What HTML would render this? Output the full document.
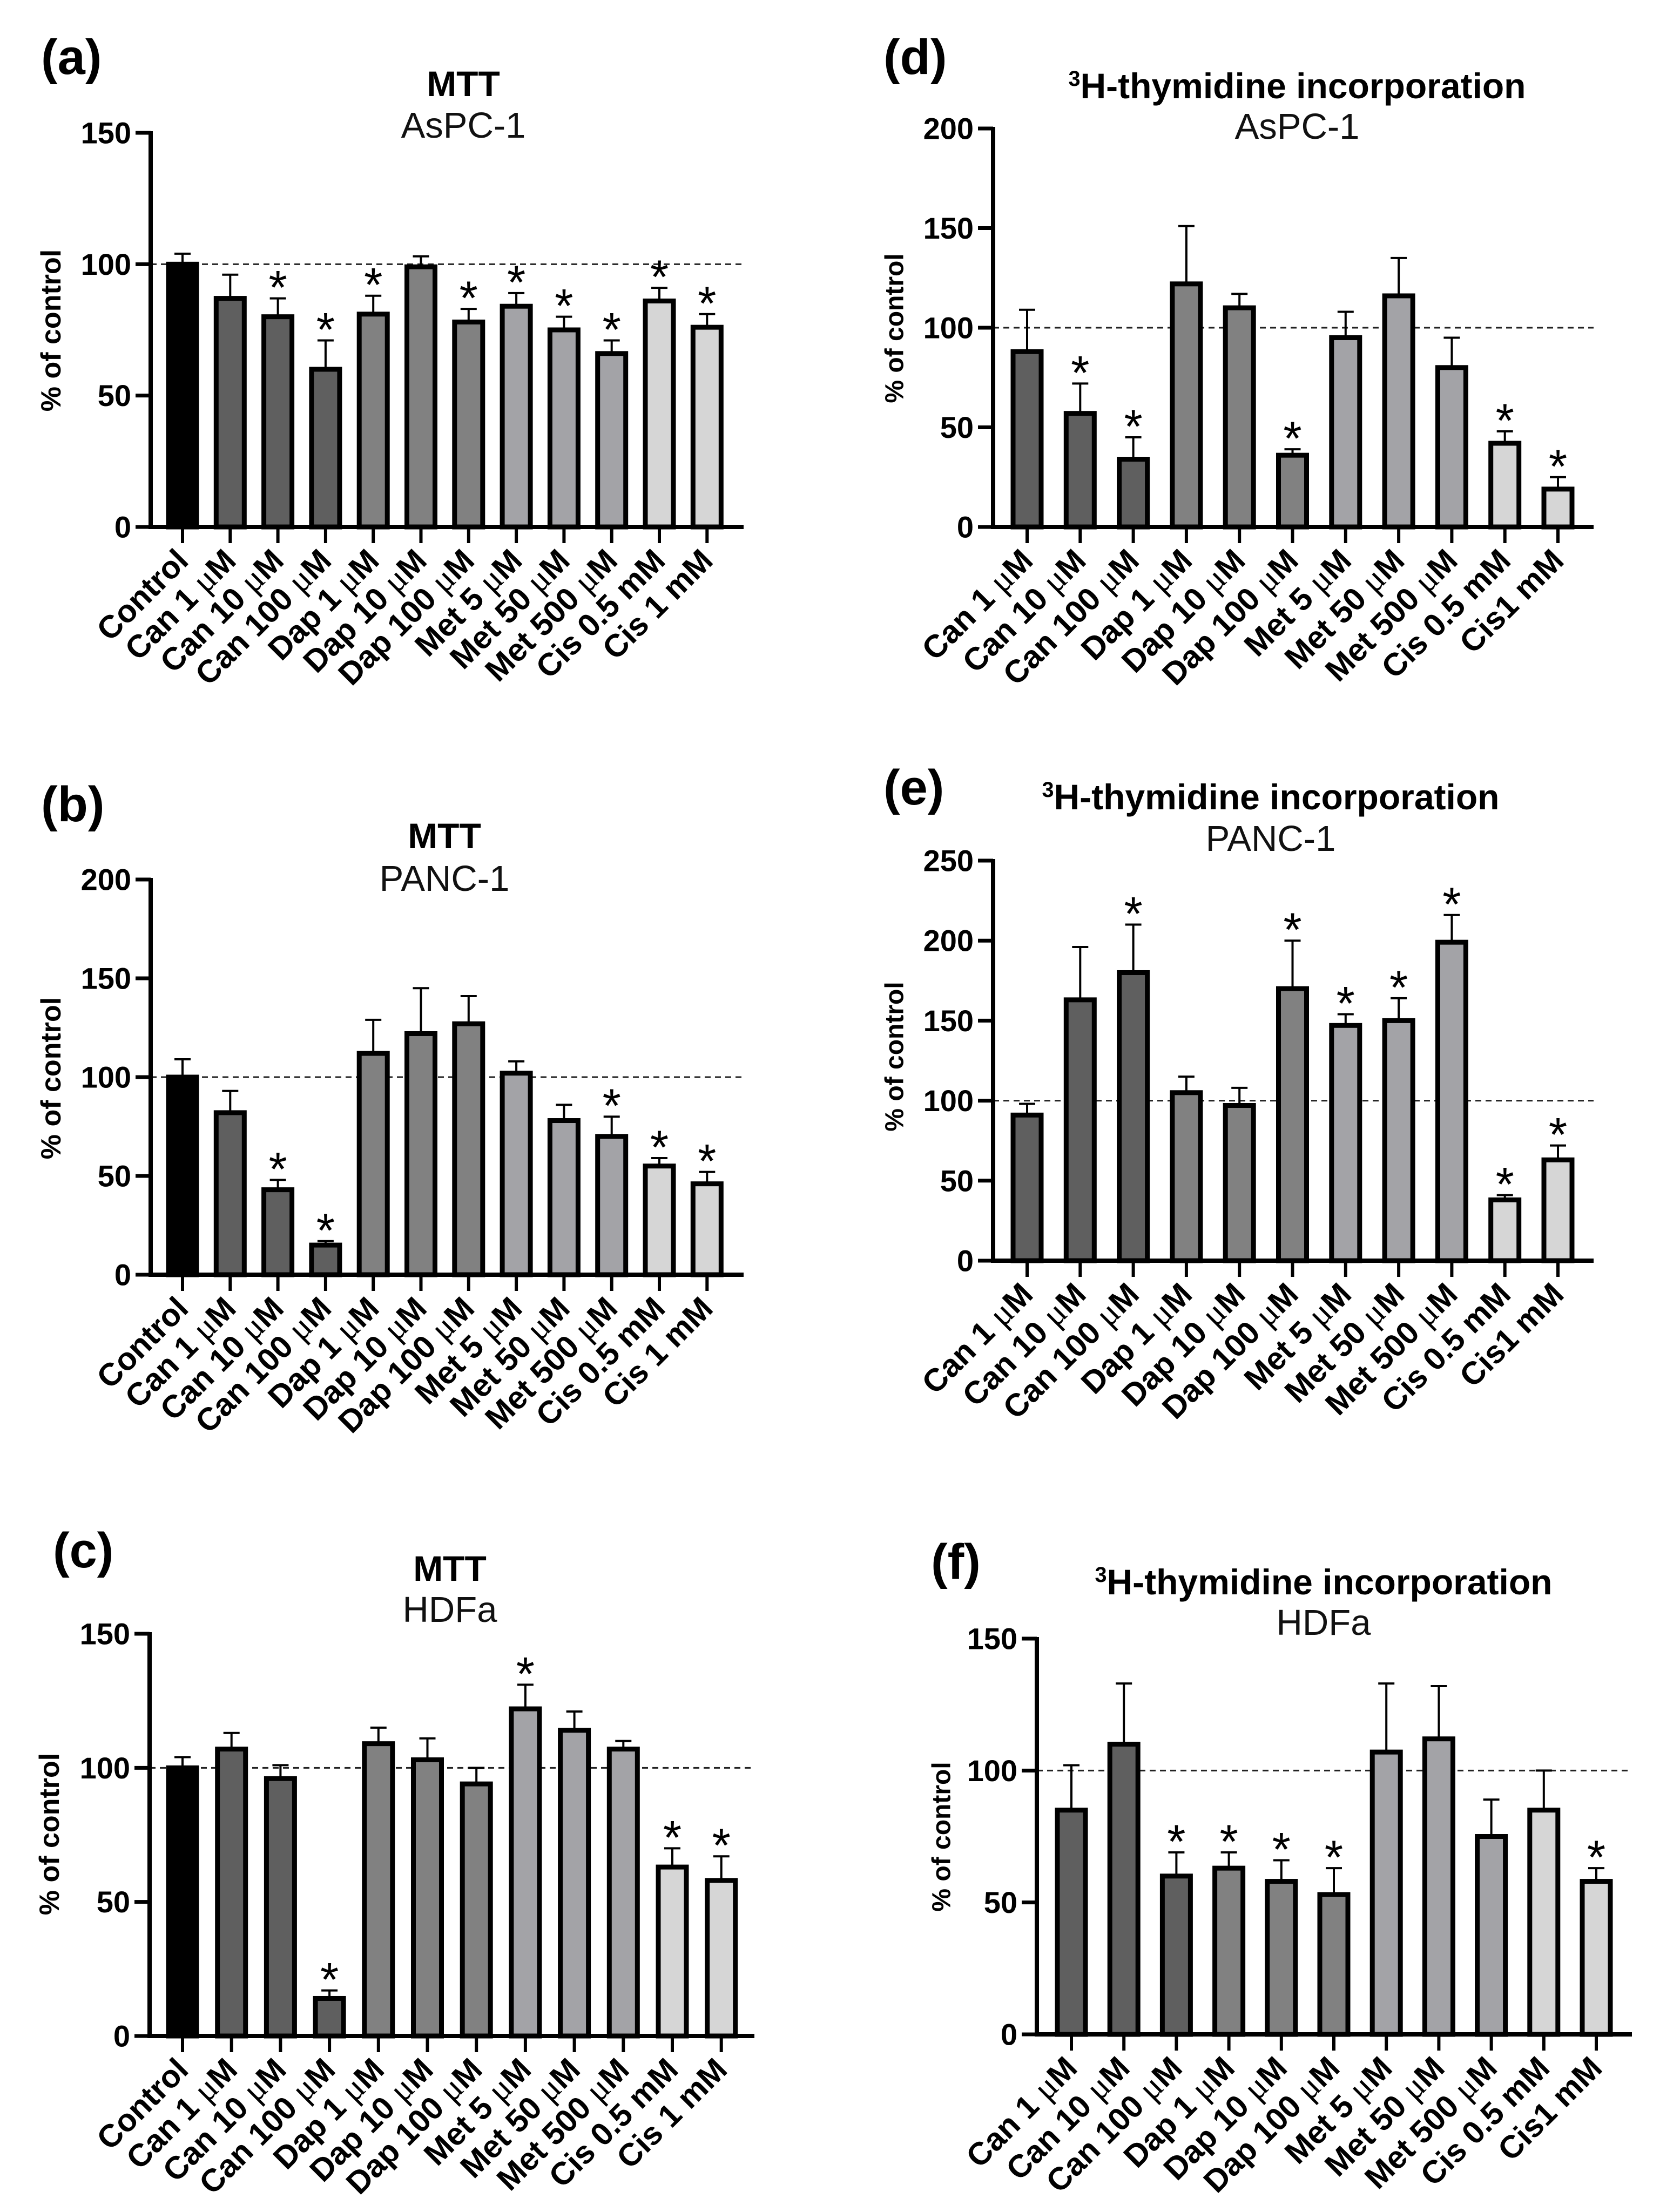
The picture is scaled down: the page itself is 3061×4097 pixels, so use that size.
<!DOCTYPE html>
<html><head><meta charset="utf-8">
<style>
html,body{margin:0;padding:0;background:#fff;}
svg{display:block;font-family:"Liberation Sans",Arial,sans-serif;}
</style></head>
<body>
<svg id="fig" xmlns="http://www.w3.org/2000/svg" width="3061" height="4097" viewBox="0 0 3061 4097">
<rect x="0" y="0" width="3061" height="4097" fill="#fff"/>
</svg>
<script>
const catsMTT = ["Control","Can 1 |μ|M","Can 10 |μ|M","Can 100 |μ|M","Dap 1 |μ|M","Dap 10 |μ|M","Dap 100 |μ|M","Met 5 |μ|M","Met 50 |μ|M","Met 500 |μ|M","Cis 0.5 mM","Cis 1 mM"];
const catsTHY = ["Can 1 |μ|M","Can 10 |μ|M","Can 100 |μ|M","Dap 1 |μ|M","Dap 10 |μ|M","Dap 100 |μ|M","Met 5 |μ|M","Met 50 |μ|M","Met 500 |μ|M","Cis 0.5 mM","Cis1 mM"];
const groupsMTT = ["ctl","can","can","can","dap","dap","dap","met","met","met","cis","cis"];
const groupsTHY = ["can","can","can","dap","dap","dap","met","met","met","cis","cis"];

const valsA = [100,87,80,60,81,99,78,84,75,66,86,76];
const errA  = [104,96,87,71,88,103,83,89,80,71,91,81];
const starA = [0,0,1,1,1,0,1,1,1,1,1,1];

const valsB = [100,82,43,15,112,122,127,102,78,70,55,46];
const errB  = [109,93,48,17,129,145,141,108,86,80,59,52];
const starB = [0,0,1,1,0,0,0,0,0,1,1,1];

const valsC = [100,107,96,14,109,103,94,122,114,107,63,58];
const errC  = [104,113,101,17,115,111,100,131,121,110,70,67];
const starC = [0,0,0,1,0,0,0,1,0,0,1,1];

const valsD = [88,57,34,122,110,36,95,116,80,42,19];
const errD  = [109,72,45,151,117,39,108,135,95,48,25];
const starD = [0,1,1,0,0,1,0,0,0,1,1];

const valsE = [91,163,180,105,97,170,147,150,199,38,63];
const errE  = [98,196,210,115,108,200,154,164,216,41,72];
const starE = [0,0,1,0,0,1,1,1,1,1,1];

const valsF = [85,110,60,63,58,53,107,112,75,85,58];
const errF  = [102,133,69,69,66,63,133,132,89,100,63];
const starF = [0,0,1,1,1,1,0,0,0,0,1];

const ticksA = [0,50,100,150];
const ticksB = [0,50,100,150,200];
const ticksC = [0,50,100,150];
const ticksD = [0,50,100,150,200];
const ticksE = [0,50,100,150,200,250];
const ticksF = [0,50,100,150];

const NS = "http://www.w3.org/2000/svg";
const svg = document.getElementById("fig");
const fills = {ctl:"#000000",can:"#5f5f5f",dap:"#818181",met:"#a3a3a7",cis:"#d6d6d6"};

function mk(tag, attrs, parent){
  const e = document.createElementNS(NS, tag);
  for (const k in attrs) e.setAttribute(k, attrs[k]);
  (parent||svg).appendChild(e);
  return e;
}

function panel(p){
  const g = mk("g",{});
  
  
  const yMax = p.ticks[p.ticks.length-1];
  const yScale = v => p.y0 - (v / yMax) * (p.y0 - p.yTop);
  const xScale = i => p.first + i * p.step;

  const pl = mk("text",{x:p.lx, y:p.ly, "font-size":92, "font-weight":"bold"}, g);
  pl.textContent = "(" + p.id + ")";
  
  

  const t = mk("text",{x:p.tx, y:p.ty, "font-size":p.titleSize, "font-weight":"bold", "text-anchor":"middle"}, g);
  
  
  if (p.sup){
    const s = mk("tspan",{"font-size":p.titleSize*0.6, dy:-p.titleSize*0.35}, t); s.textContent = "3";
    const r = mk("tspan",{dy:p.titleSize*0.35}, t); r.textContent = p.title;
  } else t.textContent = p.title;
  const st = mk("text",{x:p.tx, y:p.sy, "font-size":67, "text-anchor":"middle", fill:"#111"}, g);
  st.textContent = p.sub;
  
  

  const yt = mk("text",{x:0, y:0, "font-size":p.ytSize, "font-weight":"bold", "text-anchor":"middle", "dominant-baseline":"central", transform:`translate(${p.ytx},${p.yty}) rotate(-90)`}, g);
  yt.textContent = "% of control";
  
  

  const dl = mk("line",{x1:p.ax, x2:p.right, y1:yScale(100), y2:yScale(100), stroke:"#222", "stroke-width":3, "stroke-dasharray":"11 8"}, g);
  
  

  p.vals.forEach((v,i)=>{
    const cx = xScale(i);
    const bw = 52;
    const r = mk("rect",{x:cx-bw/2, y:yScale(v), width:bw, height:p.y0-yScale(v), fill:fills[p.groups[i]], stroke:"#000", "stroke-width":9}, g);
    
    
    const ey = yScale(p.errs[i]);
    const el = mk("line",{x1:cx, x2:cx, y1:yScale(v), y2:ey, stroke:"#000", "stroke-width":4}, g);
    
    
    const ec = mk("line",{x1:cx-15, x2:cx+15, y1:ey, y2:ey, stroke:"#000", "stroke-width":4}, g);
    
    
    if (p.stars[i]){
      const s = mk("text",{x:cx, y:ey+10, "font-size":88, "text-anchor":"middle"}, g);
      s.textContent = "*";
      
      
    }
    const xt = mk("line",{x1:cx, x2:cx, y1:p.y0, y2:p.y0+30, stroke:"#000", "stroke-width":6}, g);
    
    
    const lx = cx + 14, ly = p.y0 + 66;
    const lab = mk("text",{x:0, y:0, "font-size":59, "font-weight":"bold", "text-anchor":"end", transform:`translate(${lx},${ly}) rotate(-45)`}, g);
    
    
    p.cats[i].split("|").forEach(part=>{
      const ts = mk("tspan",{}, lab);
      if (part === "μ"){ ts.setAttribute("font-family","Liberation Serif, serif"); ts.setAttribute("font-weight","normal"); ts.setAttribute("font-size","64"); }
      ts.textContent = part;
    });
  });

  const ya = mk("line",{x1:p.ax, x2:p.ax, y1:p.yTop-3, y2:p.y0+4, stroke:"#000", "stroke-width":8}, g);
  
  
  const xa = mk("line",{x1:p.ax-4, x2:p.right, y1:p.y0, y2:p.y0, stroke:"#000", "stroke-width":8}, g);
  
  
  p.ticks.forEach(tv=>{
    const y = yScale(tv);
    const tk = mk("line",{x1:p.ax-28, x2:p.ax, y1:y, y2:y, stroke:"#000", "stroke-width":7}, g);
    
    
    const tl = mk("text",{x:p.ax-36, y:y, "font-size":56, "font-weight":"bold", "text-anchor":"end", "dominant-baseline":"central"}, g);
    tl.textContent = tv;
    
    
  });
}

panel({id:"a", ax:279, y0:976, yTop:246, right:1377, first:338, step:88.3, ticks:ticksA, vals:valsA, errs:errA, stars:starA, cats:catsMTT, groups:groupsMTT,
  lx:76, ly:137, tx:858, ty:178, sy:255, title:"MTT", titleSize:66, sup:false, sub:"AsPC-1", ytx:95, yty:612, ytSize:52});
panel({id:"b", ax:279, y0:2361, yTop:1629, right:1377, first:338, step:88.3, ticks:ticksB, vals:valsB, errs:errB, stars:starB, cats:catsMTT, groups:groupsMTT,
  lx:76, ly:1521, tx:823, ty:1571, sy:1650, title:"MTT", titleSize:66, sup:false, sub:"PANC-1", ytx:95, yty:1997, ytSize:52});
panel({id:"c", ax:277, y0:3771, yTop:3026, right:1397, first:338, step:90.7, ticks:ticksC, vals:valsC, errs:errC, stars:starC, cats:catsMTT, groups:groupsMTT,
  lx:98, ly:2903, tx:833, ty:2928, sy:3004, title:"MTT", titleSize:66, sup:false, sub:"HDFa", ytx:92, yty:3397, ytSize:52});
panel({id:"d", ax:1839, y0:976, yTop:238, right:2951, first:1902, step:98.3, ticks:ticksD, vals:valsD, errs:errD, stars:starD, cats:catsTHY, groups:groupsTHY,
  lx:1636, ly:137, tx:2402, ty:182, sy:257, title:"H-thymidine incorporation", titleSize:66, sup:true, sub:"AsPC-1", ytx:1657, yty:608, ytSize:48});
panel({id:"e", ax:1839, y0:2335, yTop:1594, right:2951, first:1902, step:98.3, ticks:ticksE, vals:valsE, errs:errE, stars:starE, cats:catsTHY, groups:groupsTHY,
  lx:1636, ly:1490, tx:2353, ty:1499, sy:1576, title:"H-thymidine incorporation", titleSize:66, sup:true, sub:"PANC-1", ytx:1657, yty:1957, ytSize:48});
panel({id:"f", ax:1920, y0:3768, yTop:3035, right:3022, first:1984, step:97.2, ticks:ticksF, vals:valsF, errs:errF, stars:starF, cats:catsTHY, groups:groupsTHY,
  lx:1724, ly:2924, tx:2451, ty:2953, sy:3028, title:"H-thymidine incorporation", titleSize:66, sup:true, sub:"HDFa", ytx:1744, yty:3402, ytSize:48});
</script>
</body></html>
